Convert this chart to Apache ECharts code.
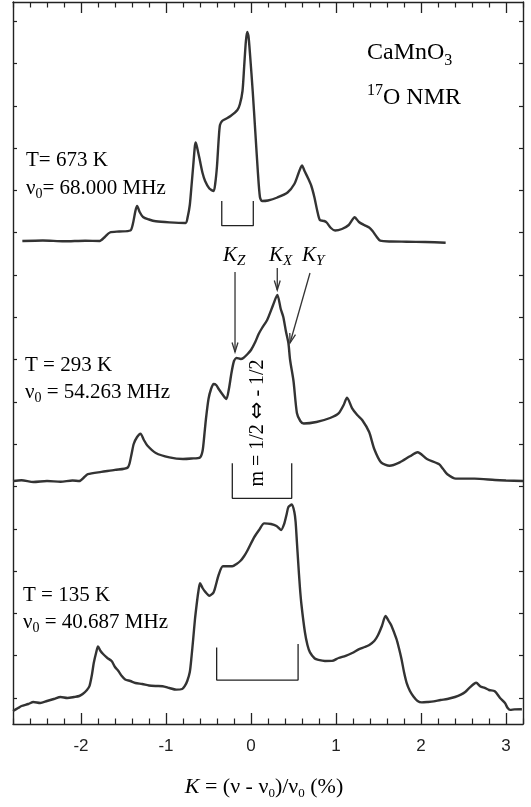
<!DOCTYPE html>
<html>
<head>
<meta charset="utf-8">
<script src="https://cdn.jsdelivr.net/npm/echarts@6/dist/echarts.min.js"></script>
<style>
html,body{margin:0;padding:0;background:#fff;}
#chart{width:531px;height:807px;}
</style>
</head>
<body>
<div id="chart"></div>
<script>
// ---------------- data ----------------
// x: Knight shift K (%)
const xTickLabels = [-2, -1, 0, 1, 2, 3];

// T = 673 K spectrum (intensity, arbitrary units, relative to its own baseline)
const k673 = [-2.69,-2.45,-2.20,-1.95,-1.78,-1.72,-1.66,-1.55,-1.42,-1.39,-1.36,-1.34,-1.31,-1.27,-1.20,-1.12,-0.96,-0.77,-0.745,-0.72,-0.70,-0.68,-0.66,-0.65,-0.63,-0.60,-0.57,-0.54,-0.49,-0.44,-0.42,-0.40,-0.38,-0.365,-0.34,-0.30,-0.24,-0.16,-0.13,-0.10,-0.08,-0.06,-0.045,-0.03,-0.01,0.02,0.05,0.08,0.105,0.13,0.20,0.31,0.43,0.51,0.56,0.60,0.63,0.67,0.71,0.745,0.78,0.81,0.86,0.89,0.94,0.99,1.07,1.15,1.22,1.27,1.33,1.39,1.43,1.48,1.52,1.65,1.83,2.05,2.29];
const i673 = [0,0.5,-0.3,0.3,0,4,8.5,9.5,10.5,17,30,35,29,24,21.5,19.7,18.6,18,24,36,55,75,95,98.6,92,80,68,60,52.5,50,58,75,102,116,120,122,125,131,137,150,175,200,209,205,185,150,110,70,44,40,40.5,43.5,48.5,57,68,75.6,70,63,55,44,30,21,20,18.5,13,10.5,12,16,23.7,19,16,13.5,10,4,0.3,-0.5,-0.7,-1.0,-1.7];

// T = 293 K spectrum
const k293 = [-2.80,-2.70,-2.56,-2.40,-2.24,-2.10,-2.02,-1.96,-1.92,-1.76,-1.60,-1.45,-1.41,-1.38,-1.34,-1.30,-1.26,-1.22,-1.12,-0.96,-0.80,-0.70,-0.60,-0.57,-0.55,-0.53,-0.50,-0.47,-0.44,-0.41,-0.38,-0.33,-0.29,-0.26,-0.23,-0.20,-0.17,-0.12,-0.09,-0.04,0.00,0.05,0.09,0.13,0.19,0.26,0.31,0.35,0.38,0.41,0.44,0.46,0.50,0.54,0.58,0.62,0.77,0.93,1.03,1.09,1.13,1.19,1.25,1.31,1.39,1.45,1.53,1.63,1.75,1.87,1.96,2.07,2.21,2.26,2.31,2.41,2.63,2.87,3.00,3.20];
const i293 = [0,0.8,-1,0,-0.7,0.5,0,4,6.8,9.1,11.1,13.5,25,37,44,47.3,41,35.5,28,23.6,22,22.5,23.6,30,45,62,82,92,97,96,92,86,82,92,108,120,123,122,123,127,131,139,147,153,161,176,186,172,164,150,138,121,100,68,60,57.5,59,63,67.6,76,83.4,72.6,66,60.8,49,32,18.6,15.2,18.6,24.7,28.7,22,16.9,12,6.8,2.4,2.4,1,0.5,0];

// T = 135 K spectrum
const k135 = [-2.80,-2.74,-2.70,-2.62,-2.56,-2.48,-2.40,-2.32,-2.24,-2.16,-2.08,-2.02,-1.98,-1.93,-1.90,-1.87,-1.85,-1.82,-1.80,-1.77,-1.74,-1.69,-1.64,-1.60,-1.56,-1.52,-1.48,-1.42,-1.36,-1.28,-1.20,-1.12,-1.04,-0.96,-0.88,-0.81,-0.78,-0.75,-0.72,-0.70,-0.68,-0.66,-0.64,-0.62,-0.60,-0.57,-0.54,-0.49,-0.44,-0.41,-0.38,-0.33,-0.22,-0.17,-0.12,-0.08,-0.045,0.035,0.095,0.155,0.235,0.30,0.354,0.39,0.42,0.44,0.48,0.51,0.525,0.54,0.555,0.575,0.594,0.634,0.664,0.694,0.75,0.793,0.87,0.953,1.03,1.113,1.19,1.272,1.34,1.392,1.45,1.492,1.54,1.583,1.62,1.651,1.711,1.74,1.771,1.80,1.831,1.87,1.911,1.96,2.01,2.08,2.15,2.23,2.31,2.40,2.469,2.52,2.569,2.649,2.70,2.749,2.80,2.868,2.93,2.988,3.02,3.048,3.10,3.187];
const i135 = [1,4,6,8,10,9,11,13,15,14,15,16,18,22,26,38,49,60,65.6,61,58,54,51,45,41,36,32.5,31,29,28,26.5,26,25.8,24,22.4,23,25.8,31,40,55,73,92,107,120,128.8,124,120.4,116.3,119.7,128,137.3,145.7,145.7,148,151.5,156,161,174.4,182,188.6,188,186,182,188,198,205,207.5,200,190,170,150,125,107,80,67,59.6,53.5,52.1,51,51.1,54,56.2,59,62.9,65,67,71,76.5,86,96.1,91,86.6,73.1,64,52.8,40,29.2,21,15.6,11,9.6,10,10.6,12,13,15,17.3,20,24.1,29.2,25.5,24.1,22,20.7,14,8.9,4,2.1,2.6,2.8];

// vertical offsets of the three traces (stacked display)
const off673 = 483, off293 = 243, off135 = 12;

// brackets (m = 1/2 <-> -1/2 transition range): [Kleft, Kright, topLeft, bottom, topRight]
const bracket673 = [-0.344, 0.027, 40, 15.3, 40];
const bracket293 = [-0.22, 0.479, 17.7, -17.3, 17.7];
const bracket135 = [-0.404, 0.554, 64.6, 31.9, 68];

// arrows K_Z, K_X, K_Y on 293 K trace: [K1, I1, K2, I2]
const arrowZ = [-0.188, 209, -0.188, 129];
const arrowX = [0.309, 213, 0.309, 191];
const arrowY = [0.694, 208, 0.459, 138];

// ---------------- build ----------------
function pairs(ks, is, off) { return ks.map((k, j) => [k, is[j] + off]); }
function bracketPts(b, off) {
  return [[b[0], b[2] + off], [b[0], b[3] + off], [b[1], b[3] + off], [b[1], b[4] + off]];
}
const minorX = [];
for (let v = -28; v <= 32; v += 2) { if (v % 10 !== 0) minorX.push(v / 10); }
const yTickVals = [];
for (let j = 0; j <= 16; j++) yTickVals.push(26 + 42.3 * j);

const axisCol = '#222';
const lineCol = '#333';
const serif = 'Liberation Serif';

const xBase = {
  type: 'value', min: -2.8, max: 3.2, gridIndex: 0,
  splitLine: { show: false },
  axisLine: { show: true, onZero: false, lineStyle: { color: axisCol, width: 1.4 } }
};
const yBase = {
  type: 'value', min: 0, max: 722, gridIndex: 0,
  splitLine: { show: false },
  axisLabel: { show: false },
  axisLine: { show: true, onZero: false, lineStyle: { color: axisCol, width: 1.4 } },
  axisTick: { show: true, inside: true, length: 4, customValues: yTickVals, lineStyle: { color: axisCol, width: 1.2 } }
};

const traceStyle = { color: lineCol, width: 2.4 };
function trace(name, data) {
  return { type: 'line', name, data, showSymbol: false, symbol: 'none', smooth: 0.25,
    lineStyle: traceStyle, itemStyle: { color: lineCol }, silent: true, animation: false, z: 3 };
}
function bracket(data) {
  return { type: 'line', data, showSymbol: false, symbol: 'none',
    lineStyle: { color: '#222', width: 1.3 }, silent: true, animation: false, z: 2 };
}

const arrowSeries = {
  type: 'custom', silent: true, animation: false, z: 4,
  data: [arrowZ, arrowX, arrowY].map(a => [a[0], a[1] + off293, a[2], a[3] + off293]),
  encode: { x: [0, 2], y: [1, 3] },
  renderItem: function (params, api) {
    const p1 = api.coord([api.value(0), api.value(1)]);
    const p2 = api.coord([api.value(2), api.value(3)]);
    const ang = Math.atan2(p2[1] - p1[1], p2[0] - p1[0]);
    const L = 10, a = 0.3;
    const h1 = [p2[0] - L * Math.cos(ang - a), p2[1] - L * Math.sin(ang - a)];
    const h2 = [p2[0] - L * Math.cos(ang + a), p2[1] - L * Math.sin(ang + a)];
    return { type: 'group', children: [
      { type: 'line', shape: { x1: p1[0], y1: p1[1], x2: p2[0], y2: p2[1] }, style: { stroke: '#333', lineWidth: 1.3 } },
      { type: 'polyline', shape: { points: [h1, p2, h2] }, style: { stroke: '#333', lineWidth: 1.3, fill: null } }
    ] };
  }
};

const richSerif = {
  a: { fontFamily: serif, fontSize: 21, color: '#111' },
  s: { fontFamily: serif, fontSize: 14, color: '#111', padding: [13, 0, 0, 0] },
  s3: { fontFamily: serif, fontSize: 16, color: '#111', padding: [16, 0, 0, 0] },
  b: { fontFamily: serif, fontSize: 24, color: '#111' },
  sup: { fontFamily: serif, fontSize: 16, color: '#111', padding: [0, 0, 15, 0] },
  i: { fontFamily: serif, fontSize: 21, fontStyle: 'italic', color: '#111' },
  is: { fontFamily: serif, fontSize: 15, fontStyle: 'italic', color: '#111', padding: [12, 0, 0, 0] },
  t: { fontFamily: serif, fontSize: 22, color: '#111' },
  ti: { fontFamily: serif, fontSize: 22, fontStyle: 'italic', color: '#111' },
  ts: { fontFamily: serif, fontSize: 13, color: '#111', padding: [13, 0, 0, 0] },
  m: { fontFamily: serif, fontSize: 20, color: '#111' },
  arr: { fontFamily: 'DejaVu Sans', fontSize: 21, color: '#111' }
};
function txt(x, y, text, extra) {
  return Object.assign({ type: 'text', x, y, silent: true, z: 10,
    style: { text, rich: richSerif, align: 'left', verticalAlign: 'middle' } }, extra || {});
}

const option = {
  backgroundColor: '#fff',
  animation: false,
  grid: { left: 13, right: 8, top: 2, bottom: 83, containLabel: false },
  xAxis: [
    Object.assign({}, xBase, {
      position: 'bottom',
      axisTick: { show: true, inside: true, length: 11, customValues: xTickLabels, lineStyle: { color: axisCol, width: 1.3 } },
      axisLabel: { show: true, customValues: xTickLabels, margin: 14, fontFamily: 'Liberation Sans', fontSize: 17, color: '#222' }
    }),
    Object.assign({}, xBase, {
      position: 'bottom', axisLine: { show: false, onZero: false },
      axisTick: { show: true, inside: true, length: 5.5, customValues: minorX, lineStyle: { color: axisCol, width: 1.2 } },
      axisLabel: { show: false }
    }),
    Object.assign({}, xBase, {
      position: 'top',
      axisTick: { show: true, inside: true, length: 11, customValues: xTickLabels, lineStyle: { color: axisCol, width: 1.3 } },
      axisLabel: { show: false }
    }),
    Object.assign({}, xBase, {
      position: 'top', axisLine: { show: false, onZero: false },
      axisTick: { show: true, inside: true, length: 5.5, customValues: minorX, lineStyle: { color: axisCol, width: 1.2 } },
      axisLabel: { show: false }
    })
  ],
  yAxis: [
    Object.assign({}, yBase, { position: 'left' }),
    Object.assign({}, yBase, { position: 'right' })
  ],
  series: [
    trace('673 K', pairs(k673, i673, off673)),
    trace('293 K', pairs(k293, i293, off293)),
    trace('135 K', pairs(k135, i135, off135)),
    bracket(bracketPts(bracket673, off673)),
    bracket(bracketPts(bracket293, off293)),
    bracket(bracketPts(bracket135, off135)),
    arrowSeries
  ],
  graphic: [
    txt(367, 53, '{b|CaMnO}{s3|3}'),
    txt(367, 98, '{sup|17}{b|O NMR}'),
    txt(26, 160, '{a|T= 673 K}'),
    txt(26, 188, '{a|ν}{s|0}{a|= 68.000 MHz}'),
    txt(25, 365, '{a|T = 293 K}'),
    txt(25, 392, '{a|ν}{s|0}{a| = 54.263 MHz}'),
    txt(23, 595, '{a|T = 135 K}'),
    txt(23, 622, '{a|ν}{s|0}{a| = 40.687 MHz}'),
    txt(223, 255, '{i|K}{is|Z}'),
    txt(269, 255, '{i|K}{is|X}'),
    txt(302, 255, '{i|K}{is|Y}'),
    { type: 'text', x: 258, y: 423, rotation: Math.PI / 2, silent: true, z: 10,
      style: { text: '{m|m = 1/2 }{arr|⇔}{m| - 1/2}', rich: richSerif, align: 'center', verticalAlign: 'middle' } },
    { type: 'text', x: 264, y: 787, silent: true, z: 10,
      style: { text: '{ti|K}{t| = (ν - ν}{ts|0}{t|)/ν}{ts|0}{t| (%)}', rich: richSerif, align: 'center', verticalAlign: 'middle' } }
  ]
};

const chart = echarts.init(document.getElementById('chart'), null, { renderer: 'canvas' });
chart.setOption(option);
</script>
</body>
</html>
